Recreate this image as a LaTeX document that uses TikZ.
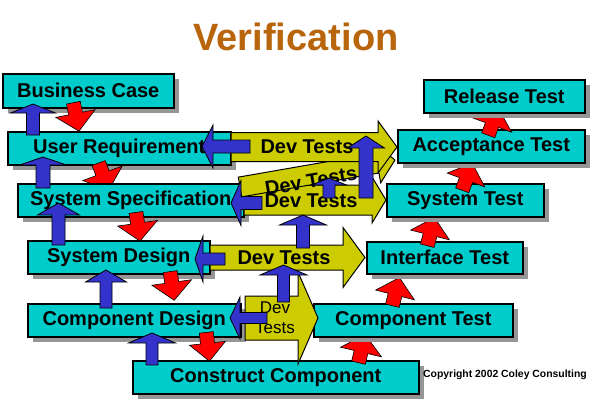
\documentclass[tikz,border=0pt]{standalone}
\usepackage{fontspec}
\setmainfont{Liberation Sans}
\usetikzlibrary{calc,shadows}
\definecolor{boxcyan}{RGB}{0,204,204}
\definecolor{devyellow}{RGB}{204,204,0}
\definecolor{arrblue}{RGB}{51,51,204}
\definecolor{arrred}{RGB}{255,0,0}
\definecolor{titlebrown}{RGB}{184,101,12}
\definecolor{shadowgray}{RGB}{150,150,150}
% #1 style, #2 start, #3 tip, #4 shaft half width, #5 head half width, #6 head length (px)
\newcommand{\blockarrow}[6]{%
 \draw[#1] let \p1=#2, \p2=#3,
   \n1={veclen(\x2-\x1,\y2-\y1)},
   \n2={(\x2-\x1)/\n1}, \n3={(\y2-\y1)/\n1},
   \n4={\n1-#6} in
   ({\x1-#4*\n3*1pt},{\y1+#4*\n2*1pt})
   -- ({\x1+\n4*\n2*1pt-#4*\n3*1pt},{\y1+\n4*\n3*1pt+#4*\n2*1pt})
   -- ({\x1+\n4*\n2*1pt-#5*\n3*1pt},{\y1+\n4*\n3*1pt+#5*\n2*1pt})
   -- (\p2)
   -- ({\x1+\n4*\n2*1pt+#5*\n3*1pt},{\y1+\n4*\n3*1pt-#5*\n2*1pt})
   -- ({\x1+\n4*\n2*1pt+#4*\n3*1pt},{\y1+\n4*\n3*1pt-#4*\n2*1pt})
   -- ({\x1+#4*\n3*1pt},{\y1-#4*\n2*1pt}) -- cycle;}
\tikzset{
  boxst/.style={draw=black, line width=1.5pt, fill=boxcyan, anchor=north west,
    inner sep=0pt, minimum height=33pt,
    font=\fontsize{20pt}{24pt}\selectfont\bfseries,
    drop shadow={shadow xshift=5pt, shadow yshift=-5pt, fill=shadowgray, opacity=1}},
  redarr/.style={fill=arrred, draw=black, line width=0.6pt, line join=miter},
  bluearr/.style={fill=arrblue, draw=black, line width=0.8pt},
  yelarr/.style={fill=devyellow, draw=black, line width=1pt},
  devtxt/.style={font=\fontsize{20pt}{24pt}\selectfont\bfseries, inner sep=0pt},
}
\begin{document}
\begin{tikzpicture}[x=1pt, y=-1pt]
\useasboundingbox (0,0) rectangle (591,400);
\fill[white] (0,0) rectangle (591,400);

\node[font=\fontsize{38pt}{44pt}\selectfont\bfseries, text=titlebrown, anchor=base, inner sep=0pt] (title) at (296,50) {Verification};

% left side boxes with red arrows in between
\node[boxst, minimum width=171pt, minimum height=34pt] (bc) at (2,73) {Business Case};
\blockarrow{redarr}{(73.4,102.7)}{(79,131.2)}{7}{20}{18}
\node[boxst, minimum width=223pt] (ur) at (7,131) {User Requirement\hspace{11pt}};
\blockarrow{redarr}{(98.7,163.0)}{(108.7,190.2)}{7}{21}{18}
\node[boxst, minimum width=226pt] (ss) at (17,183) {System Specification\hspace{6pt}};
\blockarrow{redarr}{(136,212.4)}{(140,241.1)}{7}{20}{18}
\node[boxst, minimum width=182pt] (sd) at (27,240) {System Design};
\blockarrow{redarr}{(170.2,271.6)}{(174.2,300.3)}{7}{20}{18}
\node[boxst, minimum width=213pt] (cd) at (27,303) {Component Design};
\blockarrow{redarr}{(206.3,332.4)}{(209.4,361.2)}{7}{18}{18}
\node[boxst, minimum width=286pt] (cc) at (132,360) {Construct Component};

% right side boxes
\blockarrow{redarr}{(358.5,362.7)}{(365.1,334.5)}{7}{21}{18}
\node[boxst, minimum width=199pt] (ct) at (313,303) {Component Test};
\blockarrow{redarr}{(392.3,305.7)}{(399.4,277.5)}{7}{20}{18}
\node[boxst, minimum width=156pt, minimum height=32pt] (it) at (366,241) {Interface Test};
\blockarrow{redarr}{(427.3,245.7)}{(434.4,217.5)}{7}{20}{18}
\node[boxst, minimum width=157pt] (st) at (386,183) {System Test};
\blockarrow{redarr}{(462.2,190.3)}{(472.2,163.1)}{7}{20}{18}
\node[boxst, minimum width=187pt] (at) at (397,129) {Acceptance Test};
\blockarrow{redarr}{(488.2,135.3)}{(498.2,108.1)}{7}{21}{18}
\node[boxst, minimum width=161pt] (rt) at (423,79) {Release Test};

% yellow Dev Tests arrows
\blockarrow{yelarr}{(244,200)}{(386,200)}{15}{23}{14}
\node[devtxt] (dt2) at (311,201) {Dev Tests};
\blockarrow{yelarr}{(240,187)}{(395,160)}{10}{20}{18}
\node[devtxt, rotate=10] (dt3) at (311,181) {Dev Tests};
\blockarrow{yelarr}{(231,147)}{(397,147)}{14.5}{26}{19}
\node[devtxt] (dt1) at (307,147) {Dev Tests};
\blockarrow{yelarr}{(210,257.5)}{(365,257.5)}{12.5}{30}{22}
\node[devtxt] (dt4) at (284,258) {Dev Tests};
\blockarrow{yelarr}{(245,318)}{(318,318)}{22}{46}{20}
\node[font=\fontsize{17pt}{20pt}\selectfont, align=center, inner sep=0pt] (dt5) at (275,318) {Dev\\Tests};

% blue arrows: upward on the left
\blockarrow{bluearr}{(33,135)}{(33,104)}{6.5}{22.5}{9}
\blockarrow{bluearr}{(43,188)}{(43,157)}{7}{23.5}{8}
\blockarrow{bluearr}{(58.5,245)}{(58.5,203)}{6.5}{21}{12}
\blockarrow{bluearr}{(106,308)}{(106,270)}{6}{20.5}{12}
\blockarrow{bluearr}{(152,365)}{(152,333)}{6}{23.5}{10}
% blue arrows: leftward into the design boxes
\blockarrow{bluearr}{(250,146.5)}{(202,146.5)}{6.5}{21.5}{11}
\blockarrow{bluearr}{(262,203)}{(231,203)}{6.5}{22.5}{10}
\blockarrow{bluearr}{(225,259)}{(195,259)}{6}{23}{8}
\blockarrow{bluearr}{(267,318)}{(230,318)}{5.5}{21}{10}
% blue arrows: upward between Dev Tests
\blockarrow{bluearr}{(283.5,302)}{(283.5,265)}{6}{23.5}{10}
\blockarrow{bluearr}{(303,248)}{(303,215)}{6.5}{23.5}{10}
\blockarrow{bluearr}{(329,198)}{(329,178)}{6}{17.5}{7}
\blockarrow{bluearr}{(366,198)}{(366,136)}{7}{18.5}{12}

\node[font=\fontsize{10.4pt}{12pt}\selectfont\bfseries, anchor=base west, inner sep=0pt] (copy) at (423,377) {Copyright 2002 Coley Consulting};
\end{tikzpicture}
\end{document}
